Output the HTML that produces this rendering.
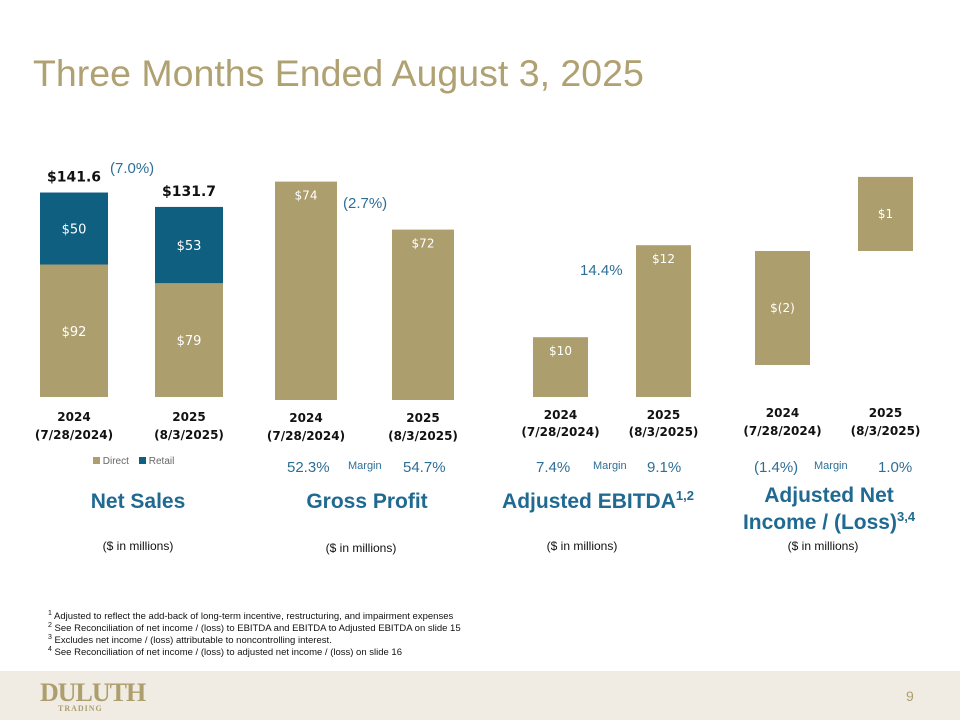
<!DOCTYPE html>
<html><head><meta charset="utf-8"><style>
body{margin:0;width:960px;height:720px;background:#fff;position:relative;overflow:hidden;font-family:"Liberation Sans",sans-serif}
.t{position:absolute;white-space:nowrap}
.c{transform:translateX(-50%);text-align:center}
.blue{color:#2d6f96}
.h{font-weight:bold;color:#206a92;font-size:21px}
.h sup{font-size:13px;line-height:0}
.sub{font-size:12px;color:#111}
.fn{font-size:9.5px;color:#111;left:48px}
</style></head><body>
<div class="t" style="left:33px;top:52px;font-size:37.5px;color:#b0a172">Three Months Ended August 3, 2025</div>
<svg id="ch" width="960" height="480" style="position:absolute;left:0;top:0"></svg>

<div class="t blue" style="left:110px;top:160px;font-size:15px">(7.0%)</div>
<div class="t blue" style="left:343px;top:195px;font-size:15px">(2.7%)</div>
<div class="t blue" style="left:580px;top:262px;font-size:15px">14.4%</div>

<div class="t" style="left:93px;top:456px;font-size:10px;color:#666"><span style="display:inline-block;width:7px;height:7px;background:#ad9e6e"></span> Direct</div>
<div class="t" style="left:139px;top:456px;font-size:10px;color:#666"><span style="display:inline-block;width:7px;height:7px;background:#0e5f80"></span> Retail</div>

<div class="t blue" style="left:287px;top:459px;font-size:15px">52.3%</div>
<div class="t blue" style="left:348px;top:460px;font-size:11px">Margin</div>
<div class="t blue" style="left:403px;top:459px;font-size:15px">54.7%</div>
<div class="t blue" style="left:536px;top:459px;font-size:15px">7.4%</div>
<div class="t blue" style="left:593px;top:460px;font-size:11px">Margin</div>
<div class="t blue" style="left:647px;top:459px;font-size:15px">9.1%</div>
<div class="t blue" style="left:754px;top:459px;font-size:15px">(1.4%)</div>
<div class="t blue" style="left:814px;top:460px;font-size:11px">Margin</div>
<div class="t blue" style="left:878px;top:459px;font-size:15px">1.0%</div>

<div class="t h c" style="left:138px;top:490px">Net Sales</div>
<div class="t h c" style="left:367px;top:490px">Gross Profit</div>
<div class="t h c" style="left:598px;top:490px">Adjusted EBITDA<sup>1,2</sup></div>
<div class="t h c" style="left:829px;top:482px;line-height:27px">Adjusted Net<br>Income / (Loss)<sup>3,4</sup></div>

<div class="t sub c" style="left:138px;top:539px">($ in millions)</div>
<div class="t sub c" style="left:361px;top:541px">($ in millions)</div>
<div class="t sub c" style="left:582px;top:539px">($ in millions)</div>
<div class="t sub c" style="left:823px;top:539px">($ in millions)</div>

<div class="t fn" style="top:610px"><sup style="font-size:7px">1</sup> Adjusted to reflect the add-back of long-term incentive, restructuring, and impairment expenses</div>
<div class="t fn" style="top:622px"><sup style="font-size:7px">2</sup> See Reconciliation of net income / (loss) to EBITDA and EBITDA to Adjusted EBITDA on slide 15</div>
<div class="t fn" style="top:634px"><sup style="font-size:7px">3</sup> Excludes net income / (loss) attributable to noncontrolling interest.</div>
<div class="t fn" style="top:646px"><sup style="font-size:7px">4</sup> See Reconciliation of net income / (loss) to adjusted net income / (loss) on slide 16</div>

<div style="position:absolute;left:0;top:671px;width:960px;height:49px;background:#f0ece4"></div>
<div class="t" style="left:40px;top:680px;color:#ad9e6e;font-family:'Liberation Serif',serif;font-weight:bold;font-size:26px;letter-spacing:-1px;line-height:26px">DULUTH<div style="font-size:8px;letter-spacing:1px;line-height:6px;margin-left:18px">TRADING</div></div>
<div class="t" style="left:906px;top:688px;font-size:14px;color:#ad9e6e">9</div>

<script>
const years=["2024","2025"];
const dates=["(7/28/2024)","(8/3/2025)"];
const salesDirect=[92,79];
const salesRetail=[50,53];
const salesTotal=["$141.6","$131.7"];
const gpValues=[74,72];
const ebitdaValues=[10,12];
const niValues=[-2,1.3];
const niLabels=["$(2)","$1"];
const TAN="#ad9e6e",BLUE="#0e5f80";
const svg=document.getElementById('ch');
const NS="http://www.w3.org/2000/svg";
function rect(x,y,w,h,fill,name){const r=document.createElementNS(NS,'rect');r.setAttribute('x',x);r.setAttribute('y',Math.min(y,y+h));r.setAttribute('width',w);r.setAttribute('height',Math.abs(h));r.setAttribute('fill',fill);


svg.appendChild(r);}
function text(x,y,s,size,fill,bold,name){const t=document.createElementNS(NS,'text');t.setAttribute('x',x);t.setAttribute('y',y);t.setAttribute('text-anchor','middle');t.setAttribute('font-size',size);t.setAttribute('fill',fill);t.setAttribute('font-family','"DejaVu Sans","Liberation Sans",sans-serif');if(bold)t.setAttribute('font-weight','bold');t.textContent=s;


svg.appendChild(t);}
const nsY=v=>397-v*1.44;const nsX=[40,155],nsW=68;
for(let i=0;i<2;i++){
 rect(nsX[i],nsY(salesDirect[i]),nsW,397-nsY(salesDirect[i]),TAN,'bar-direct-'+years[i]);
 rect(nsX[i],nsY(salesDirect[i]+salesRetail[i]),nsW,nsY(salesDirect[i])-nsY(salesDirect[i]+salesRetail[i]),BLUE,'bar-retail-'+years[i]);
 const cx=nsX[i]+nsW/2;
 text(cx,(nsY(salesDirect[i])+397)/2+5,'$'+salesDirect[i],13,'#fff',false,'direct-label-'+years[i]);
 text(cx,(nsY(salesDirect[i])+nsY(salesDirect[i]+salesRetail[i]))/2+5,'$'+salesRetail[i],13,'#fff',false,'retail-label-'+years[i]);
 text(cx,nsY(salesDirect[i]+salesRetail[i])-11,salesTotal[i],14,'#111',true,'total-label-'+years[i]);
 text(cx,421,years[i],12,'#111',true,'ns-year-'+years[i]);
 text(cx,439,dates[i],12,'#111',true,'ns-date-'+years[i]);
}
const gpY=v=>400-(v-64.9)*24;const gpX=[275,392],gpW=62;
for(let i=0;i<2;i++){const cx=gpX[i]+gpW/2;
 rect(gpX[i],gpY(gpValues[i]),gpW,400-gpY(gpValues[i]),TAN,'bar-gp-'+years[i]);
 text(cx,gpY(gpValues[i])+18,'$'+gpValues[i],12,'#fff',false,'gp-label-'+years[i]);
 text(cx,422,years[i],12,'#111',true,'gp-year-'+years[i]);
 text(cx,440,dates[i],12,'#111',true,'gp-date-'+years[i]);
}
const ebY=v=>397-(v-8.7)*46;const ebX=[533,636],ebW=55;
for(let i=0;i<2;i++){const cx=ebX[i]+ebW/2;
 rect(ebX[i],ebY(ebitdaValues[i]),ebW,397-ebY(ebitdaValues[i]),TAN,'bar-ebitda-'+years[i]);
 text(cx,ebY(ebitdaValues[i])+18,'$'+ebitdaValues[i],12,'#fff',false,'ebitda-label-'+years[i]);
 text(cx,419,years[i],12,'#111',true,'eb-year-'+years[i]);
 text(cx,436,dates[i],12,'#111',true,'eb-date-'+years[i]);
}
const niY=v=>251-v*57;const niX=[755,858],niW=55;
for(let i=0;i<2;i++){const cx=niX[i]+niW/2;
 rect(niX[i],251,niW,niY(niValues[i])-251,TAN,'bar-ni-'+years[i]);
 text(cx,(251+niY(niValues[i]))/2+4,niLabels[i],12,'#fff',false,'ni-label-'+years[i]);
 text(cx,417,years[i],12,'#111',true,'ni-year-'+years[i]);
 text(cx,435,dates[i],12,'#111',true,'ni-date-'+years[i]);
}
</script>
</body></html>
